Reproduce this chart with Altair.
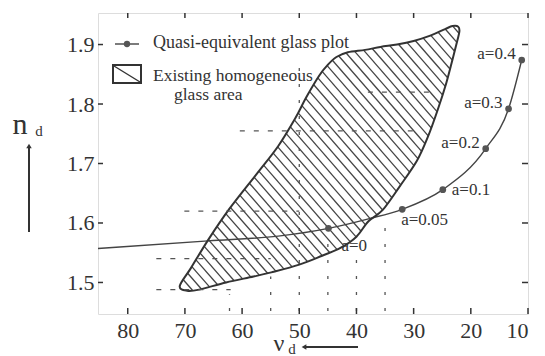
import altair as alt
import pandas as pd

FONT = "Liberation Serif"
INK = "#333333"

# ---------------- data ----------------
x_ticks = [80, 70, 60, 50, 40, 30, 20, 10]
y_ticks = [1.5, 1.6, 1.7, 1.8, 1.9]

curve_nu = [85.2, 65.9, 53.7, 44.9, 37.9, 32.0, 24.9, 17.4, 13.4, 11.1]
curve_nd = [1.557, 1.570, 1.578, 1.591, 1.607, 1.623, 1.656, 1.725, 1.792, 1.874]

point_nu = [44.9, 32.0, 24.9, 17.4, 13.4, 11.1]
point_nd = [1.591, 1.623, 1.656, 1.725, 1.792, 1.874]
point_lab = ["a=0", "a=0.05", "a=0.1", "a=0.2", "a=0.3", "a=0.4"]

region_nu = [70.9, 69.6, 67.5, 62.8, 58.0, 54.9, 50.0, 46.0, 42.8, 40.0, 37.9, 35.4,
             32.4, 29.4, 27.5, 25.8, 24.3, 23.2, 22.4, 22.0, 22.2, 23.2, 24.5, 27.1,
             30.0, 32.9, 35.8, 38.5, 41.5, 43.5, 45.0, 46.5, 48.8, 50.7, 53.7, 57.4,
             62.2, 65.9, 68.9]
region_nd = [1.494, 1.486, 1.488, 1.500, 1.510, 1.517, 1.530, 1.545, 1.558, 1.577, 1.603, 1.622,
             1.662, 1.705, 1.745, 1.790, 1.835, 1.875, 1.905, 1.922, 1.930, 1.931, 1.926, 1.915,
             1.906, 1.900, 1.896, 1.891, 1.887, 1.879, 1.866, 1.848, 1.811, 1.776, 1.729, 1.683,
             1.624, 1.572, 1.525]

dash_nd = [1.82, 1.755, 1.62, 1.54, 1.488]
dash_from = [38.0, 60.4, 70.1, 75.0, 75.0]
dash_to = [26.0, 29.0, 50.0, 55.0, 62.0]

dot_nu = [62.2, 55.0, 50.0, 45.0, 40.0, 35.0]
dot_from = [1.452, 1.452, 1.452, 1.452, 1.452, 1.452]
dot_to = [1.48, 1.51, 1.88, 1.58, 1.55, 1.60]

# ---------------- geometry helpers ----------------
W, H = 430, 301
XDOM = [10.0, 85.2]
YDOM = [1.447, 1.953]


def to_px(nu):
    return (XDOM[1] - nu) / (XDOM[1] - XDOM[0]) * W


def to_py(nd):
    return (YDOM[1] - nd) / (YDOM[1] - YDOM[0]) * H


def from_px(p):
    return XDOM[1] - p / W * (XDOM[1] - XDOM[0])


def from_py(p):
    return YDOM[1] - p / H * (YDOM[1] - YDOM[0])


# hatch fill of the glass area (a fill pattern clipped to the outline)
SLOPE = 1.15
GAP = 10.0
poly = [(to_px(a), to_py(b)) for a, b in zip(region_nu, region_nd)]
cs = [y - SLOPE * x for x, y in poly]
hx, hy, hx2, hy2 = [], [], [], []
c = min(cs) + GAP * SLOPE * 0.5
while c < max(cs):
    hits = []
    n = len(poly)
    for i in range(n):
        x0, y0 = poly[i]
        x1, y1 = poly[(i + 1) % n]
        f0 = y0 - SLOPE * x0 - c
        f1 = y1 - SLOPE * x1 - c
        if (f0 < 0) != (f1 < 0):
            t = f0 / (f0 - f1)
            hits.append(x0 + t * (x1 - x0))
    hits.sort()
    for a, b in zip(hits[0::2], hits[1::2]):
        hx.append(from_px(a)); hy.append(from_py(SLOPE * a + c))
        hx2.append(from_px(b)); hy2.append(from_py(SLOPE * b + c))
    c += GAP * SLOPE

xs = alt.Scale(domain=XDOM, reverse=True, nice=False, zero=False)
ys = alt.Scale(domain=YDOM, nice=False, zero=False)

x_axis = alt.Axis(values=x_ticks, format="d", title=None, ticks=False, domain=False, grid=False,
                  labelPadding=6, labelFontSize=22, labelFont=FONT, labelColor=INK)
y_axis = alt.Axis(values=y_ticks, format=".1f", title=None, ticks=False, domain=False, grid=False,
                  labelPadding=4, labelFontSize=22, labelFont=FONT, labelColor=INK)

curve_df = pd.DataFrame({"nu": curve_nu, "nd": curve_nd})
pts_df = pd.DataFrame({"nu": point_nu, "nd": point_nd, "lab": point_lab})
region_df = pd.DataFrame({"nu": region_nu, "nd": region_nd, "o": list(range(len(region_nu)))})
hatch_df = pd.DataFrame({"nu": hx, "nd": hy, "nu2": hx2, "nd2": hy2})
dash_df = pd.DataFrame({"nd": dash_nd, "nu": dash_from, "nu2": dash_to})
dot_df = pd.DataFrame({"nu": dot_nu, "nd": dot_from, "nd2": dot_to})
xt_df = pd.DataFrame({"nu": x_ticks})
yt_df = pd.DataFrame({"nd": y_ticks})


def X():
    return alt.X("nu:Q", scale=xs, axis=x_axis)


def Y():
    return alt.Y("nd:Q", scale=ys, axis=y_axis)


curve = alt.Chart(curve_df).mark_line(color="#444", strokeWidth=1.4, interpolate="monotone").encode(
    x=X(), y=Y())

hatch = alt.Chart(hatch_df).mark_rule(color="#444", strokeWidth=1.3).encode(
    x=X(), y=Y(), x2="nu2:Q", y2="nd2:Q")

outline = alt.Chart(region_df).mark_line(color="#333", strokeWidth=2, interpolate="cardinal-closed").encode(
    x=X(), y=Y(), order="o:Q")

dashes = alt.Chart(dash_df).mark_rule(color="#555", strokeWidth=1.2, strokeDash=[5, 9]).encode(
    x=X(), x2="nu2:Q", y=Y())

dots = alt.Chart(dot_df).mark_rule(color="#555", strokeWidth=1.3, strokeDash=[3, 13]).encode(
    x=X(), y=Y(), y2="nd2:Q")

points = alt.Chart(pts_df).mark_circle(color="#555", opacity=1, size=45).encode(x=X(), y=Y())


def labels(sel, **kw):
    return alt.Chart(pts_df).transform_filter(
        alt.FieldOneOfPredicate(field="lab", oneOf=sel)
    ).mark_text(font=FONT, fontSize=17, color=INK, baseline="middle", **kw).encode(
        x=X(), y=Y(), text="lab:N")


lab_right = labels(["a=0.2", "a=0.3", "a=0.4"], align="right", dx=-6, dy=-6)
lab_01 = labels(["a=0.1"], align="left", dx=9, dy=0)
lab_005 = labels(["a=0.05"], align="left", dx=-1, dy=11)
lab_0 = labels(["a=0"], align="left", dx=13, dy=18)

# inward ticks on all four sides
tb = alt.Chart(xt_df).mark_rule(color=INK, strokeWidth=1.5).encode(x=X(), y=alt.value(H), y2=alt.value(H - 6))
tt = alt.Chart(xt_df).mark_rule(color=INK, strokeWidth=1.5).encode(x=X(), y=alt.value(0), y2=alt.value(5))
tl = alt.Chart(yt_df).mark_rule(color=INK, strokeWidth=1.5).encode(y=Y(), x=alt.value(0), x2=alt.value(5))
tr = alt.Chart(yt_df).mark_rule(color=INK, strokeWidth=1.5).encode(y=Y(), x=alt.value(W), x2=alt.value(W - 6))

one = pd.DataFrame({"k": [0]})

# legend
leg_line = alt.Chart(one).mark_rule(color="#444", strokeWidth=1.4).encode(
    x=alt.value(17), x2=alt.value(41), y=alt.value(31))
leg_pt = alt.Chart(one).mark_circle(color="#555", opacity=1, size=40).encode(
    x=alt.value(29), y=alt.value(31))
leg_box = alt.Chart(one).mark_rect(fill="white", stroke="#333", strokeWidth=2).encode(
    x=alt.value(15), x2=alt.value(43), y=alt.value(52), y2=alt.value(70))
leg_diag = alt.Chart(one).mark_rule(color="#333", strokeWidth=1.4).encode(
    x=alt.value(16), x2=alt.value(42), y=alt.value(53), y2=alt.value(69))


def txt(s, x, y, size, align="left", baseline="middle", **kw):
    return alt.Chart(pd.DataFrame({"t": [s]})).mark_text(
        font=FONT, fontSize=size, color=INK, align=align, baseline=baseline, **kw
    ).encode(x=alt.value(x), y=alt.value(y), text="t:N")


leg_t1 = txt("Quasi-equivalent glass plot", 55, 30, 18)
leg_t2 = txt("Existing homogeneous", 55, 63, 17.5)
leg_t3 = txt("glass area", 76, 82, 17.5)

# axis titles with arrows
n_t = txt("n", -78, 112, 30, align="center")
nd_t = txt("d", -59, 118, 15, align="center")
y_shaft = alt.Chart(one).mark_rule(color=INK, strokeWidth=2).encode(
    x=alt.value(-69), y=alt.value(219), y2=alt.value(134))
y_head = alt.Chart(one).mark_point(shape="triangle-up", filled=True, color=INK, opacity=1, size=30).encode(
    x=alt.value(-69), y=alt.value(133))

nu_t = txt("\u03bd", 181, 338, 24, align="center", baseline="alphabetic")
nud_t = txt("d", 194, 341, 15, align="center", baseline="alphabetic")
x_shaft = alt.Chart(one).mark_rule(color=INK, strokeWidth=2).encode(
    x=alt.value(260), x2=alt.value(208), y=alt.value(334))
x_head = alt.Chart(one).mark_point(shape="triangle-left", filled=True, color=INK, opacity=1, size=30).encode(
    x=alt.value(206), y=alt.value(334))

chart = alt.layer(
    curve, hatch, outline, dashes, dots, points,
    lab_right, lab_01, lab_005, lab_0,
    tb, tt, tl, tr,
    leg_line, leg_pt, leg_box, leg_diag, leg_t1, leg_t2, leg_t3,
    n_t, nd_t, y_shaft, y_head, nu_t, nud_t, x_shaft, x_head,
).properties(
    width=W, height=H,
    autosize=alt.AutoSizeParams(type="none"),
    padding={"left": 90, "top": 5, "right": 9, "bottom": 44},
).configure_view(
    stroke=INK, strokeWidth=2.5
).configure(background="white")

chart.save("out.html", embed_options={"renderer": "svg", "actions": False})
